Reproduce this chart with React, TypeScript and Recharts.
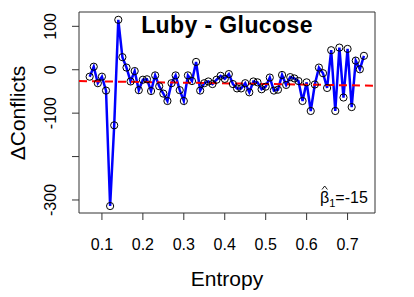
import React from "react";
import { ComposedChart, Line, XAxis, YAxis, ReferenceLine, ReferenceArea } from "recharts";

const entropy = [
  0.07, 0.08, 0.09, 0.10, 0.11, 0.12, 0.13, 0.14, 0.15, 0.16, 0.17, 0.18, 0.19, 0.20,
  0.21, 0.22, 0.23, 0.24, 0.25, 0.26, 0.27, 0.28, 0.29, 0.30, 0.31, 0.32, 0.33, 0.34,
  0.35, 0.36, 0.37, 0.38, 0.39, 0.40, 0.41, 0.42, 0.43, 0.44, 0.45, 0.46, 0.47, 0.48,
  0.49, 0.50, 0.51, 0.52, 0.53, 0.54, 0.55, 0.56, 0.57, 0.58, 0.59, 0.60, 0.61, 0.62,
  0.63, 0.64, 0.65, 0.66, 0.67, 0.68, 0.69, 0.70, 0.71, 0.72, 0.73, 0.74,
];
const deltaConflicts = [
  -16, 7, -31, -16, -48, -314, -128, 115, 29, 5, -27, -3, -47, -23,
  -22, -49, -13, -38, -55, -72, -31, -13, -47, -72, -13, -26, 18, -48,
  -31, -27, -33, -23, -14, -21, -10, -33, -43, -43, -31, -52, -27, -29,
  -45, -39, -18, -48, -46, -12, -35, -17, -20, -26, -72, -29, -95, -34,
  5, -8, -42, 45, -95, 51, -64, 48, -86, 21, 1, 32,
];
const xTicks = [0.1, 0.2, 0.3, 0.4, 0.5, 0.6, 0.7];
const yTicks = [100, 0, -100, -200, -300];
const yTickLabels = ["100", "0", "-100", "", "-300"];
const xDomain = [0.044, 0.767];
const yDomain = [-330, 133];
const beta0 = -25.3;
const beta1 = -15;

const data = entropy.map((x, i) => ({ x, y: deltaConflicts[i] }));
const FONT = "'Liberation Sans', Arial, Helvetica, sans-serif";

const XTick = (props: any) => {
  const { x, payload } = props;
  return (
    <text x={x} y={250} textAnchor="middle" fontSize={16} fontFamily={FONT} fill="#000">
      {payload.value.toFixed(1)}
    </text>
  );
};

const YTick = (props: any) => {
  const { y, payload } = props;
  const idx = yTicks.indexOf(payload.value);
  const label = idx >= 0 ? yTickLabels[idx] : "";
  if (!label) return null;
  const bx = 56;
  return (
    <text
      x={bx}
      y={y}
      textAnchor="middle"
      fontSize={16}
      fontFamily={FONT}
      fill="#000"
      transform={`rotate(-90, ${bx}, ${y})`}
    >
      {label}
    </text>
  );
};

export default function App() {
  return (
    <div style={{ position: "absolute", left: 0, top: 0, width: 414, height: 297, background: "#fff" }}>
      <ComposedChart
        width={414}
        height={297}
        data={data}
        margin={{ top: 12, right: 39, bottom: 0, left: 0 }}
      >
        <XAxis
          dataKey="x"
          type="number"
          domain={xDomain}
          allowDataOverflow
          ticks={xTicks}
          height={84}
          tickSize={7}
          axisLine={false}
          tickLine={{ stroke: "#333" }}
          tick={<XTick />}
          interval={0}
        />
        <YAxis
          type="number"
          domain={yDomain}
          allowDataOverflow
          ticks={yTicks}
          width={79}
          tickSize={7}
          axisLine={false}
          tickLine={{ stroke: "#333" }}
          tick={<YTick />}
          interval={0}
        />
        <ReferenceArea
          x1={xDomain[0]}
          x2={xDomain[1]}
          y1={yDomain[0]}
          y2={yDomain[1]}
          fill="none"
          fillOpacity={0}
          stroke="#333"
          strokeWidth={1}
        />
        <Line
          dataKey="y"
          type="linear"
          stroke="#0000ff"
          strokeWidth={2.5}
          dot={{ r: 3.6, stroke: "#000", strokeWidth: 1, fill: "none" }}
          isAnimationActive={false}
        />
        <ReferenceLine
          segment={[
            { x: xDomain[0], y: beta0 + beta1 * xDomain[0] },
            { x: xDomain[1], y: beta0 + beta1 * xDomain[1] },
          ]}
          stroke="#ff0000"
          strokeWidth={2}
          strokeDasharray="8 5"
        />
        <text x={227} y={33} textAnchor="middle" fontSize={23} fontWeight="bold" letterSpacing={0.4} fontFamily={FONT} fill="#000">
          Luby - Glucose
        </text>
        <text x={320} y={203} fontSize={16} fontFamily={FONT} fill="#000">
          β<tspan fontSize={11} dy={4}>1</tspan>
          <tspan dy={-4}>=-15</tspan>
        </text>
        <polyline
          points="322,189.5 324.7,186 327.4,189.5"
          fill="none"
          stroke="#000"
          strokeWidth={0.9}
        />
        <text x={227} y={286} textAnchor="middle" fontSize={21} fontFamily={FONT} fill="#000">
          Entropy
        </text>
        <text
          x={25}
          y={113}
          textAnchor="middle"
          fontSize={21}
          fontFamily={FONT}
          fill="#000"
          transform="rotate(-90, 25, 113)"
        >
          ΔConflicts
        </text>
      </ComposedChart>
    </div>
  );
}
